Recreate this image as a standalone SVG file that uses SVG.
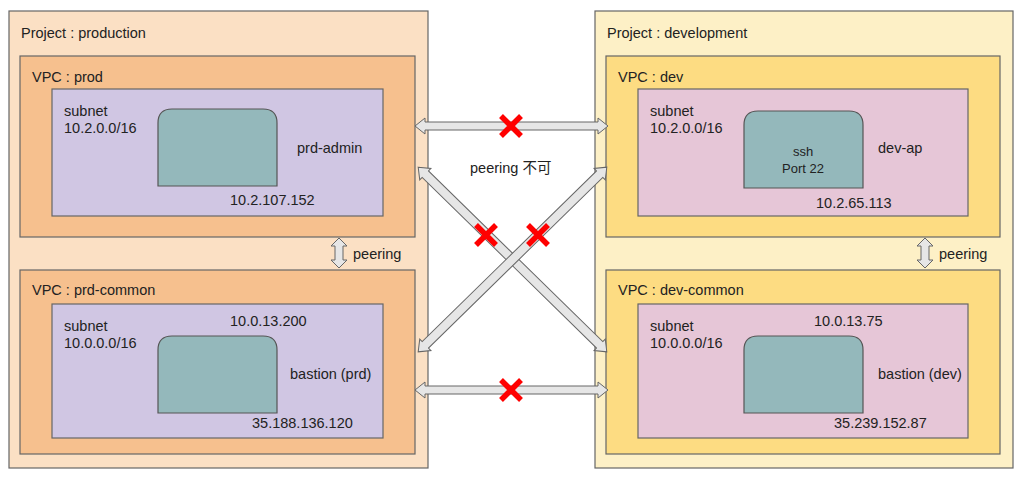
<svg xmlns="http://www.w3.org/2000/svg" width="1024" height="479" viewBox="0 0 1024 479">
<style>
text{font-family:"Liberation Sans",Arial,sans-serif;font-size:14.5px;fill:#222}
.b{stroke:#666;stroke-width:1.2}
.pp{fill:#fbe0c4}.pd{fill:#fdf0c6}
.vp{fill:#f6c08e}.vd{fill:#fddc82}
.sp{fill:#d0c6e3}.sd{fill:#e6c6d7}
.inst{fill:#94b8bb;stroke:#555;stroke-width:1.2}
.arr{fill:#e6e6e6;stroke:#666;stroke-width:1}
.x{stroke:#f00;stroke-width:5.5}
</style>
<defs>
<path id="inst" d="M0,77 V14 Q0,0 14,0 H105 Q119,0 119,14 V77 Z"/>
</defs>
<g id="project-production">
<rect class="b pp" x="9" y="11" width="419" height="457"/>
<text x="21" y="38">Project : production</text>
</g>
<g id="vpc-prod">
<rect class="b vp" x="20" y="56" width="395" height="181"/>
<text x="32" y="82">VPC : prod</text>
<rect class="b sp" x="52" y="89" width="331" height="127"/>
<text x="64" y="116">subnet</text><text x="64" y="133">10.2.0.0/16</text>
<use href="#inst" class="inst" x="158" y="109"/>
<text x="297" y="153">prd-admin</text>
<text x="230" y="205">10.2.107.152</text>
</g>
<g id="vpc-prd-common">
<rect class="b vp" x="20" y="270" width="395" height="184"/>
<text x="32" y="295">VPC : prd-common</text>
<rect class="b sp" x="52" y="304" width="331" height="134"/>
<text x="64" y="331">subnet</text><text x="64" y="348">10.0.0.0/16</text>
<text x="230" y="326">10.0.13.200</text>
<use href="#inst" class="inst" x="158" y="336"/>
<text x="290" y="379">bastion (prd)</text>
<text x="252" y="428">35.188.136.120</text>
</g>
<g id="project-development">
<rect class="b pd" x="595" y="11" width="418" height="457"/>
<text x="607" y="38">Project : development</text>
</g>
<g id="vpc-dev">
<rect class="b vd" x="606" y="56" width="394" height="181"/>
<text x="618" y="82">VPC : dev</text>
<rect class="b sd" x="638" y="89" width="330" height="127"/>
<text x="650" y="116">subnet</text><text x="650" y="133">10.2.0.0/16</text>
<use href="#inst" class="inst" x="744" y="111"/>
<text x="803" y="156" text-anchor="middle" style="font-size:13px">ssh</text>
<text x="803" y="173" text-anchor="middle" style="font-size:13px">Port 22</text>
<text x="878" y="153">dev-ap</text>
<text x="816" y="208">10.2.65.113</text>
</g>
<g id="vpc-dev-common">
<rect class="b vd" x="606" y="270" width="394" height="184"/>
<text x="618" y="295">VPC : dev-common</text>
<rect class="b sd" x="638" y="304" width="330" height="134"/>
<text x="650" y="331">subnet</text><text x="650" y="348">10.0.0.0/16</text>
<text x="814" y="326">10.0.13.75</text>
<use href="#inst" class="inst" x="744" y="336"/>
<text x="878" y="379">bastion (dev)</text>
<text x="834" y="428">35.239.152.87</text>
</g>
<g id="connectors">
<path class="arr" d="M415,126 l10,-8 v4 h173 v-4 l10,8 l-10,8 v-4 h-173 v4 z"/>
<path class="arr" d="M415,390 l10,-8 v4 h173 v-4 l10,8 l-10,8 v-4 h-173 v4 z"/>
<g transform="translate(512.5,259.5) rotate(44.4)"><path class="arr" d="M-132,0 l10,-8 v3.5 h244 v-3.5 l10,8 l-10,8 v-3.5 h-244 v3.5 z"/></g>
<g transform="translate(512.5,259.5) rotate(-44.4)"><path class="arr" d="M-132,0 l10,-8 v3.5 h244 v-3.5 l10,8 l-10,8 v-3.5 h-244 v3.5 z"/></g>
<path class="arr" d="M339,238 l8,8 h-4 v14 h4 l-8,8 l-8,-8 h4 v-14 h-4 z"/>
<path class="arr" d="M925,238 l8,8 h-4 v14 h4 l-8,8 l-8,-8 h4 v-14 h-4 z"/>
<text x="353" y="259">peering</text>
<text x="939" y="259">peering</text>
<text x="470" y="173" style="font-family:'Liberation Sans','Noto Sans CJK JP',sans-serif">peering 不可</text>
<g class="x">
<path d="M501,116 l20,20 M521,116 l-20,20"/>
<path d="M476,225 l20,20 M496,225 l-20,20"/>
<path d="M528,225 l20,20 M548,225 l-20,20"/>
<path d="M501,380 l20,20 M521,380 l-20,20"/>
</g>
</g>
</svg>
